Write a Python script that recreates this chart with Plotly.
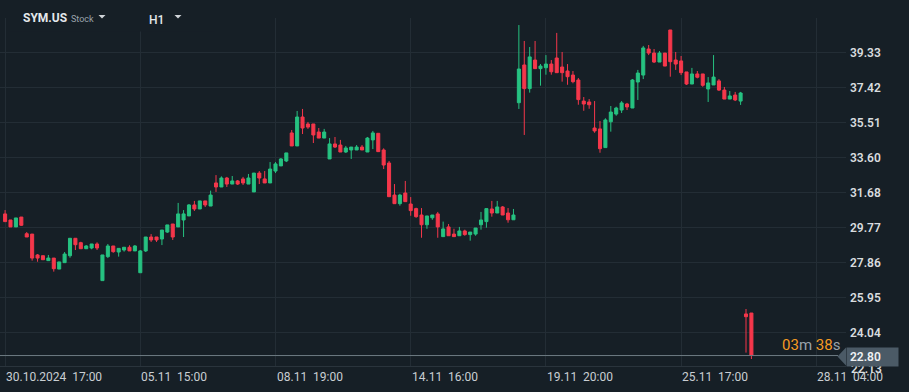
import plotly.graph_objects as go

# ---------------- data ----------------
opens = [30.53, 30.20, 29.82, 30.36, 29.45, 29.43, 28.29, 28.25, 27.98, 28.12,
         27.52, 27.87, 28.25, 29.20, 28.96, 28.63, 28.67, 28.89, 26.89, 28.20,
         28.78, 28.45, 28.56, 28.71, 28.51, 27.32, 28.51, 29.27, 29.27, 29.16,
         29.54, 29.98, 29.82, 30.20, 30.42, 31.02, 30.80, 31.24, 30.96, 32.22,
         32.00, 32.49, 32.16, 32.33, 32.44, 32.16, 31.73, 32.76, 32.44, 32.22,
         32.87, 33.15, 33.42, 34.95, 34.24, 35.82, 35.44, 35.44, 35.00, 34.67,
         33.53, 34.35, 34.29, 33.91, 34.02, 34.02, 34.18, 33.91, 34.57, 34.93,
         34.02, 33.31, 31.56, 31.09, 31.67, 31.07, 30.82, 30.47, 29.94, 30.32,
         30.53, 29.29, 29.82, 29.43, 29.34, 29.60, 29.40, 29.43, 29.94, 30.11,
         30.80, 30.58, 30.91, 30.58, 30.21, 36.60, 38.66, 37.37, 38.93, 38.46,
         38.51, 38.71, 39.04, 38.55, 38.33, 38.11, 37.84, 36.69, 36.64, 35.22,
         35.17, 34.15, 35.56, 35.98, 36.20, 36.53, 36.31, 37.73, 38.11, 39.53,
         39.31, 38.82, 39.31, 40.57, 38.93, 38.88, 38.28, 37.62, 38.17, 38.17,
         37.35, 37.57, 37.79, 37.29, 36.80, 37.02, 36.69, 25.07, 25.12]
highs = [30.74, 30.20, 30.31, 30.36, 29.54, 29.43, 28.34, 28.25, 28.29, 28.12,
         27.91, 28.45, 29.20, 29.20, 29.01, 28.83, 28.89, 28.98, 28.29, 28.89,
         28.78, 28.65, 28.71, 28.82, 28.83, 28.56, 29.27, 29.43, 29.27, 29.65,
         29.93, 29.98, 31.13, 30.74, 31.07, 31.24, 31.24, 31.24, 31.80, 32.65,
         32.58, 32.55, 32.60, 32.38, 32.55, 32.71, 32.76, 32.87, 32.87, 33.36,
         33.36, 33.58, 33.86, 35.11, 36.15, 36.26, 35.55, 35.44, 35.22, 35.17,
         34.67, 34.73, 34.57, 34.24, 34.18, 34.29, 34.29, 34.73, 35.06, 34.93,
         34.11, 33.42, 32.16, 31.63, 32.33, 31.45, 30.87, 30.85, 30.42, 30.47,
         30.64, 30.11, 29.98, 29.72, 29.82, 29.67, 29.54, 29.76, 30.64, 30.82,
         31.24, 31.24, 30.96, 30.85, 30.80, 40.84, 39.97, 39.64, 39.97, 38.71,
         39.20, 38.93, 40.41, 39.37, 38.71, 38.33, 37.95, 36.91, 36.80, 36.69,
         35.60, 35.75, 36.42, 36.38, 36.69, 36.59, 37.89, 38.39, 39.70, 39.75,
         39.53, 39.42, 39.31, 40.57, 39.37, 39.15, 38.28, 38.50, 38.33, 38.17,
         38.00, 39.20, 37.89, 37.46, 37.24, 37.19, 37.19, 25.34, 25.12]
lows = [30.11, 29.82, 29.82, 29.87, 29.27, 27.98, 27.92, 28.03, 27.98, 27.38,
        27.52, 27.87, 28.14, 28.56, 28.63, 28.63, 28.60, 28.56, 26.89, 28.12,
        28.41, 28.20, 28.47, 28.51, 28.51, 27.32, 28.45, 29.00, 29.00, 28.83,
        29.49, 29.11, 29.82, 29.27, 30.42, 30.69, 30.80, 30.91, 30.96, 31.73,
        32.00, 32.00, 32.16, 32.11, 32.11, 32.16, 31.73, 32.16, 32.22, 32.22,
        32.76, 33.15, 33.36, 34.24, 34.24, 34.89, 35.17, 34.40, 34.67, 34.67,
        33.53, 34.13, 33.91, 33.86, 33.53, 34.02, 34.02, 33.91, 34.07, 33.93,
        32.98, 31.47, 31.09, 30.98, 31.20, 30.43, 30.32, 29.23, 29.72, 30.21,
        29.23, 29.29, 29.34, 29.29, 29.34, 29.34, 29.07, 29.34, 29.67, 29.78,
        30.38, 30.58, 30.47, 30.05, 30.21, 36.26, 34.84, 37.15, 38.46, 37.53,
        38.13, 38.13, 38.24, 37.75, 37.58, 37.66, 36.49, 36.16, 36.27, 34.96,
        33.87, 34.15, 35.02, 35.89, 36.04, 36.20, 36.31, 36.75, 37.89, 39.20,
        38.77, 38.82, 38.60, 38.02, 38.39, 38.11, 37.57, 37.62, 37.93, 37.47,
        36.64, 37.57, 37.24, 36.80, 36.80, 36.69, 36.48, 22.96, 22.61]
closes = [30.11, 29.82, 30.31, 29.91, 29.27, 28.12, 28.12, 28.03, 28.12, 27.54,
          27.91, 28.34, 29.20, 28.85, 28.63, 28.78, 28.89, 28.67, 28.29, 28.78,
          28.47, 28.65, 28.71, 28.51, 28.78, 28.51, 29.27, 29.11, 29.11, 29.65,
          29.93, 29.27, 30.53, 30.53, 31.02, 30.80, 31.24, 31.02, 31.56, 32.00,
          32.49, 32.16, 32.33, 32.16, 32.22, 32.49, 32.76, 32.49, 32.22, 32.98,
          33.26, 33.53, 33.86, 34.24, 35.82, 35.22, 35.27, 34.84, 34.67, 35.00,
          34.35, 34.18, 33.91, 34.13, 34.18, 34.18, 34.02, 34.67, 34.95, 33.93,
          33.20, 31.47, 31.09, 31.56, 31.20, 30.71, 30.38, 29.94, 30.42, 30.47,
          29.82, 29.71, 29.34, 29.29, 29.60, 29.40, 29.54, 29.76, 30.20, 30.82,
          30.58, 30.91, 30.47, 30.21, 30.47, 38.44, 37.37, 39.10, 38.46, 38.60,
          38.71, 38.29, 38.24, 38.24, 38.02, 37.75, 36.77, 36.53, 36.49, 35.06,
          34.09, 35.66, 36.09, 36.31, 36.59, 36.37, 37.84, 38.22, 39.59, 39.31,
          38.82, 39.31, 38.60, 38.84, 38.71, 38.24, 37.62, 38.17, 37.99, 37.55,
          37.68, 38.00, 37.29, 36.80, 36.97, 36.75, 37.13, 24.92, 22.80]

bar_index = list(range(len(opens)))

x_tick_index = [0, 25, 50, 75, 100, 125, 150]
x_tick_labels = ["30.10.2024\u00a0 17:00", "05.11\u00a0 15:00", "08.11\u00a0 19:00",
                 "14.11\u00a0 16:00", "19.11\u00a0 20:00", "25.11\u00a0 17:00",
                 "28.11\u00a0 04:00"]

y_tick_values = [24.04, 25.95, 27.86, 29.77, 31.68, 33.60, 35.51, 37.42, 39.33]
hidden_tick_value = 22.13
last_price = 22.80
symbol = "SYM.US"
symbol_type = "Stock"
timeframe = "H1"
countdown_min = "03"
countdown_sec = "38"

# ---------------- styling ----------------
BG = "#161f26"
GRID = "#232d35"
GREEN = "#26c281"
RED = "#f5374b"
TXT = "#d8dcdf"
Y_RANGE = [22.229, 41.224]

fig = go.Figure()
fig.add_trace(go.Candlestick(
    x=bar_index, open=opens, high=highs, low=lows, close=closes,
    increasing=dict(line=dict(color=GREEN, width=1), fillcolor=GREEN),
    decreasing=dict(line=dict(color=RED, width=1), fillcolor=RED),
    whiskerwidth=0, hoverinfo="skip", showlegend=False,
))

W_PLOT = 846.0   # plot-area width in px (for paper fractions)
H_PLOT = 348.0   # plot-area height in px
TOP = 18.0


def px_x(px):
    return px / W_PLOT


def px_y(py):
    return (TOP + H_PLOT - py) / H_PLOT


annotations = []
for xi, lab in zip(x_tick_index, x_tick_labels):
    annotations.append(dict(
        x=xi, xref="x", y=0, yref="paper", xanchor="left", yanchor="top",
        yshift=-2, xshift=-1, text=lab, showarrow=False,
        font=dict(family="Roboto", size=12, color="#c9ced2")))

# header
annotations += [
    dict(x=px_x(21), y=px_y(18), xref="paper", yref="paper", xanchor="left",
         yanchor="middle", text=symbol, showarrow=False,
         font=dict(family="Roboto", size=12, color="#e4e8eb", weight="bold")),
    dict(x=px_x(69), y=px_y(19), xref="paper", yref="paper", xanchor="left",
         yanchor="middle", text=symbol_type, showarrow=False,
         font=dict(family="Roboto", size=9, color="#9aa3ab")),
    dict(x=px_x(146.5), y=px_y(20), xref="paper", yref="paper", xanchor="left",
         yanchor="middle", text=timeframe, showarrow=False,
         font=dict(family="Roboto", size=12, color="#e4e8eb", weight=500)),
]

# partially hidden tick label (mostly covered by the price tag, as in the original)
annotations.append(dict(
    x=1.0, xref="paper",
    y=(hidden_tick_value - Y_RANGE[0]) / (Y_RANGE[1] - Y_RANGE[0]), yref="paper",
    xanchor="left", yanchor="middle", xshift=3, yshift=-1,
    text=f"{hidden_tick_value:.2f}",
    showarrow=False, font=dict(family="Roboto", size=12, color=TXT, weight=600)))

# countdown
OR = "#f59a23"
annotations.append(dict(
    x=px_x(842), xref="paper", y=last_price, yref="y", xanchor="right",
    yanchor="bottom", yshift=0, showarrow=False,
    text=(f"<span style='color:{OR}'>{countdown_min}</span>m "
          f"<span style='color:{OR}'>{countdown_sec}</span>s"),
    font=dict(family="Roboto", size=15, color="#9aa3aa")))

# price tag
annotations.append(dict(
    x=1.0, xref="paper", y=last_price, yref="y", xanchor="left",
    yanchor="middle", yshift=-1, showarrow=False, text=f"\u00a0{last_price:.2f}",
    bgcolor="#4b5a66", width=51, height=18, borderpad=0, align="left",
    font=dict(family="Roboto", size=12, color="#eef1f3", weight=600)))

half_h = 9 / 18.32


def tri(cx):
    return (f"M {px_x(cx - 3.5)} {px_y(15)} L {px_x(cx + 3.5)} {px_y(15)} "
            f"L {px_x(cx)} {px_y(18.5)} Z")


shapes = [
    # header background hiding grid lines behind the toolbar
    dict(type="rect", xref="paper", yref="paper", x0=px_x(10), x1=px_x(215),
         y0=px_y(31.5), y1=px_y(0), fillcolor=BG, line=dict(width=0),
         layer="above"),
    # dropdown triangles
    dict(type="path", xref="paper", yref="paper", path=tri(102),
         fillcolor="#d0d4d8", line=dict(width=0), layer="above"),
    dict(type="path", xref="paper", yref="paper", path=tri(178),
         fillcolor="#d0d4d8", line=dict(width=0), layer="above"),
    # last price line
    dict(type="line", xref="paper", yref="y", x0=0, x1=px_x(838),
         y0=last_price, y1=last_price, line=dict(color="#6e7a83", width=1),
         layer="above"),
    # tag arrow
    dict(type="path", xref="paper", yref="y",
         path=(f"M {px_x(837.5)} {last_price - 0.055} L 1.0 {last_price + half_h - 0.055} "
               f"L 1.0 {last_price - half_h - 0.055} Z"),
         fillcolor="#4b5a66", line=dict(width=0), layer="above"),
]

fig.update_layout(
    width=909, height=392,
    margin=dict(l=0, r=63, t=18, b=26),
    paper_bgcolor=BG, plot_bgcolor=BG,
    boxgap=0.25, boxgroupgap=0.25,
    annotations=annotations, shapes=shapes,
    showlegend=False,
    xaxis=dict(range=[-0.943, 155.49], tickvals=x_tick_index, showticklabels=False,
               showgrid=True, gridcolor=GRID, gridwidth=1, zeroline=False,
               showline=True, linecolor="#2a343c", linewidth=1,
               rangeslider=dict(visible=False), fixedrange=True),
    yaxis=dict(side="right", range=Y_RANGE, tickvals=y_tick_values,
               ticktext=[f"{v:.2f}" for v in y_tick_values],
               showgrid=True, gridcolor=GRID, gridwidth=1, zeroline=False,
               ticks="", ticklabelstandoff=3,
               tickfont=dict(family="Roboto", size=12, color=TXT, weight=600),
               fixedrange=True),
)

fig.write_html(
    "out.html",
    config={"displayModeBar": False, "staticPlot": True},
    post_script="document.body.style.margin='0';document.body.style.background='%s';" % BG,
)
